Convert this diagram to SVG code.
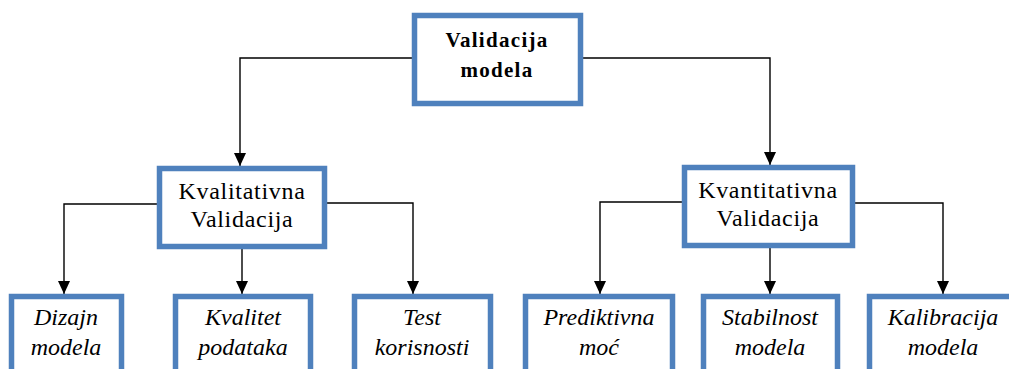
<svg xmlns="http://www.w3.org/2000/svg" width="1009" height="369" viewBox="0 0 1009 369">
<style>
.box{fill:#fff;stroke:#4f81bd;stroke-width:5.5}
.con{fill:none;stroke:#000;stroke-width:1.4;marker-end:url(#ah)}
.t{font-family:'Liberation Serif','Times New Roman','DejaVu Serif',serif;text-anchor:middle;fill:#000}
.top{font-size:21px;font-weight:bold;letter-spacing:1.3px}
.mid{font-size:24px;letter-spacing:0.7px}
.bot{font-size:24px;font-style:italic}
</style>
<defs>
<marker id="ah" viewBox="0 0 13 12" refX="13" refY="6" markerWidth="13" markerHeight="12" markerUnits="userSpaceOnUse" orient="auto">
<path d="M0,0 L13,6 L0,12 Z" fill="#000"/>
</marker>
</defs>
<g id="connectors">
<path class="con" d="M414,58 H240 V166"/>
<path class="con" d="M581,58 H770 V165"/>
<path class="con" d="M157,204 H64 V294"/>
<path class="con" d="M242,249 V294"/>
<path class="con" d="M327,203 H413 V294"/>
<path class="con" d="M682,202 H600 V294"/>
<path class="con" d="M770,248 V294"/>
<path class="con" d="M855,203 H943 V294"/>
</g>
<g id="n-validacija">
<rect class="box" x="414.5" y="15.5" width="166" height="88"/>
<text class="t top" x="497" y="47">Validacija</text>
<text class="t top" x="497" y="77">modela</text>
</g>
<g id="n-kvalitativna">
<rect class="box" x="159.5" y="168.5" width="165" height="78"/>
<text class="t mid" x="242" y="199">Kvalitativna</text>
<text class="t mid" x="242" y="227">Validacija</text>
</g>
<g id="n-kvantitativna">
<rect class="box" x="684.5" y="167.5" width="168" height="78"/>
<text class="t mid" x="768" y="198">Kvantitativna</text>
<text class="t mid" x="768" y="226">Validacija</text>
</g>
<g id="n-dizajn">
<rect class="box" x="11.5" y="296.5" width="110" height="90"/>
<text class="t bot" x="66" y="325">Dizajn</text>
<text class="t bot" x="66" y="355">modela</text>
</g>
<g id="n-kvalitet">
<rect class="box" x="175.5" y="296.5" width="135" height="90"/>
<text class="t bot" x="243" y="325">Kvalitet</text>
<text class="t bot" x="243" y="355">podataka</text>
</g>
<g id="n-test">
<rect class="box" x="354.5" y="296.5" width="136" height="90"/>
<text class="t bot" x="422" y="325">Test</text>
<text class="t bot" x="422" y="355">korisnosti</text>
</g>
<g id="n-prediktivna">
<rect class="box" x="525.5" y="296.5" width="147" height="90"/>
<text class="t bot" x="599" y="325">Prediktivna</text>
<text class="t bot" x="599" y="355">moć</text>
</g>
<g id="n-stabilnost">
<rect class="box" x="703.5" y="296.5" width="134" height="90"/>
<text class="t bot" x="770" y="325">Stabilnost</text>
<text class="t bot" x="770" y="355">modela</text>
</g>
<g id="n-kalibracija">
<rect class="box" x="869.5" y="296.5" width="148" height="90"/>
<text class="t bot" x="943" y="325">Kalibracija</text>
<text class="t bot" x="943" y="355">modela</text>
</g>
</svg>
